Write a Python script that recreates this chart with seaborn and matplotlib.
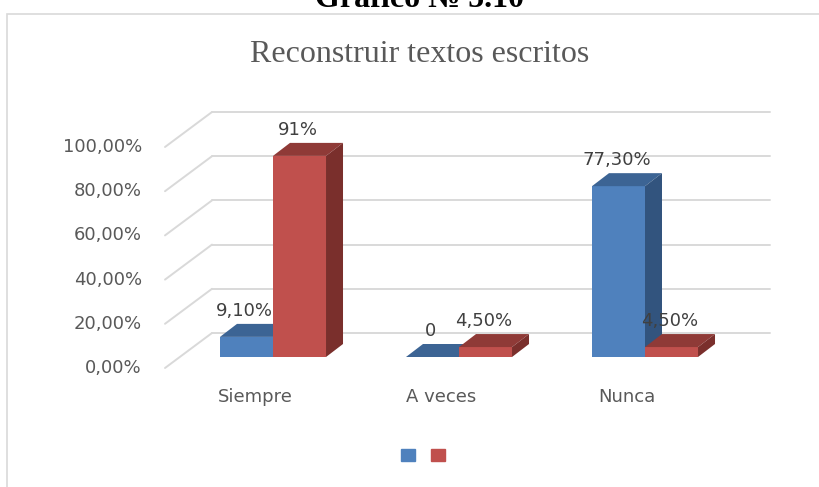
# plot.py
# Grafico 5.10 - "Reconstruir textos escritos"
# Excel style 3D columns faked on top of a normal seaborn barplot:
# the front faces come from sns.barplot, top/side faces and the back wall
# are added afterwards with offsets measured in pixels.

import matplotlib
matplotlib.use("Agg")
import matplotlib.pyplot as plt
from matplotlib.patches import Polygon, Rectangle, Patch
import seaborn as sns
import pandas as pd

# data
categories = ["Siempre", "A veces", "Nunca"]
series_names = ["Serie 1", "Serie 2"]
serie1 = [9.10, 0.0, 77.30]
serie2 = [91.0, 4.50, 4.50]
labels1 = ["9,10%", "0", "77,30%"]
labels2 = ["91%", "4,50%", "4,50%"]
yticks = [0, 20, 40, 60, 80, 100]
ytick_labels = ["0,00%", "20,00%", "40,00%", "60,00%", "80,00%", "100,00%"]

# colours (front, top, side)
BLUE = ("#4F81BD", "#3C6494", "#32547E")
RED = ("#C0504D", "#8F3A37", "#7A2F2C")
GRID = "#d9d9d9"
TICK_COLOR = "#595959"
LABEL_COLOR = "#404040"

W, H = 819, 487

sns.set_style("white")
plt.rcParams["font.family"] = ["DejaVu Sans"]

fig = plt.figure(figsize=(W / 100, H / 100), dpi=100)
# the axes is the "bar plane" (front faces of the columns)
ax = fig.add_axes([180 / W, 130 / H, 558 / W, 221 / H])

df = pd.DataFrame({
    "categoria": categories * 2,
    "serie": [series_names[0]] * 3 + [series_names[1]] * 3,
    "valor": serie1 + serie2,
})

sns.barplot(data=df, x="categoria", y="valor", hue="serie",
            palette=[BLUE[0], RED[0]], saturation=1, width=0.57,
            errorbar=None, legend=False, linewidth=0, ax=ax)
ax.set_xlim(-0.5, 2.5)
ax.set_ylim(0, 100)
ax.axis("off")

# pixels -> data units
x0d, y0d = ax.transData.transform((0, 0))
x1d, y1d = ax.transData.transform((1, 1))
ppx = x1d - x0d
ppy = y1d - y0d


def px(dx, dy):
    """Offset in screen pixels (dy up) to data units."""
    return dx / ppx, dy / ppy


bar_dx, bar_dy = px(17, 13)      # column depth
front_dx, front_dy = px(-15, -11)  # front edge of the floor
back_dx, back_dy = px(32, 24)    # back wall

# back wall grid + left diagonals
for t in yticks:
    ax.plot([-0.5 + back_dx, 2.5 + back_dx], [t + back_dy, t + back_dy],
            color=GRID, lw=1.4, zorder=0.5, clip_on=False)
    ax.plot([-0.5 + front_dx, -0.5 + back_dx], [t + front_dy, t + back_dy],
            color=GRID, lw=1.4, zorder=0.5, clip_on=False)

# y tick labels on the front plane
for t, lab in zip(yticks, ytick_labels):
    ax.text(-0.5 + front_dx - 23 / ppx, t + front_dy, lab, ha="right",
            va="center", fontsize=13, color=TICK_COLOR, clip_on=False)

# category labels
for i, cat in enumerate(categories):
    ax.text(i + front_dx - 3 / ppx, front_dy - 29 / ppy, cat, ha="center",
            va="center", fontsize=13, color=TICK_COLOR, clip_on=False)

# 3D faces + value labels
bars = ax.patches[:6]
all_vals = [serie1, serie2]
all_labels = [labels1, labels2]
all_cols = [BLUE, RED]
for k, p in enumerate(bars):
    s, c = divmod(k, 3)
    cols = all_cols[s]
    z = 2 + c * 0.01 + s * 0.5
    p.set_zorder(z)
    xa = p.get_x()
    xb = xa + p.get_width()
    h = p.get_height()
    top = Polygon([(xa, h), (xb, h), (xb + bar_dx, h + bar_dy), (xa + bar_dx, h + bar_dy)],
                  closed=True, facecolor=cols[1], edgecolor="none", zorder=z + 0.1,
                  clip_on=False)
    side = Polygon([(xb, 0), (xb + bar_dx, bar_dy), (xb + bar_dx, h + bar_dy), (xb, h)],
                   closed=True, facecolor=cols[2], edgecolor="none", zorder=z + 0.1,
                   clip_on=False)
    ax.add_patch(top)
    ax.add_patch(side)
    ax.text(xa + p.get_width() / 2 - 2 / ppx, h + 26 / ppy, all_labels[s][c],
            ha="center", va="center", fontsize=13, color=LABEL_COLOR,
            zorder=5, clip_on=False)

# legend with coloured boxes only
fig.legend(handles=[Patch(color=BLUE[0]), Patch(color=RED[0])], labels=["", ""],
           ncol=2, loc="center", bbox_to_anchor=(423 / W, 1 - 456 / H),
           frameon=False, handlelength=1, handleheight=1, handletextpad=0,
           columnspacing=1.15, fontsize=10)

# chart border (runs off the right and bottom of the picture)
fig.add_artist(Rectangle((7 / W, -0.1), 1.2, 1.1 - 14 / H, transform=fig.transFigure,
                         fill=False, edgecolor=GRID, lw=1.2))

serif = ["Liberation Serif", "DejaVu Serif"]
# heading above the chart, cut by the top edge as in the original scan
fig.text(420 / W, 1 - 7 / H, "Gráfico № 5.10", ha="center", va="baseline",
         fontsize=23, fontweight="bold", family=serif, color="black")
fig.text(420 / W, 1 - 55 / H, "Reconstruir textos escritos", ha="center",
         va="center", fontsize=23, family=serif, color=TICK_COLOR)

fig.savefig("out.png", dpi=100)
